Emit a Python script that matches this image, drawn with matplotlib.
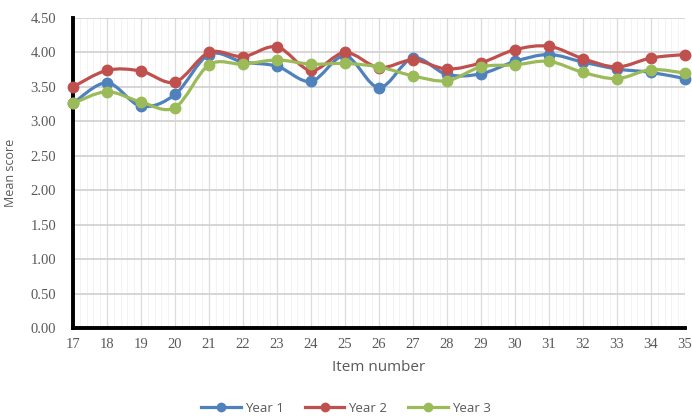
import matplotlib
matplotlib.use("Agg")
import matplotlib.pyplot as plt
from matplotlib.ticker import MultipleLocator
from matplotlib.path import Path
from matplotlib.patches import PathPatch
from matplotlib.lines import Line2D

items = list(range(17, 36))
year1 = [3.26, 3.56, 3.22, 3.39, 3.97, 3.86, 3.80, 3.58, 3.95, 3.49,
         3.92, 3.68, 3.69, 3.87, 3.97, 3.86, 3.76, 3.71, 3.62]
year2 = [3.50, 3.74, 3.73, 3.57, 4.00, 3.94, 4.08, 3.74, 4.00, 3.78,
         3.89, 3.76, 3.85, 4.04, 4.09, 3.91, 3.79, 3.92, 3.97]
year3 = [3.26, 3.43, 3.28, 3.20, 3.82, 3.83, 3.89, 3.83, 3.84, 3.79,
         3.66, 3.59, 3.79, 3.82, 3.87, 3.71, 3.62, 3.75, 3.70]
series_names = ["Year 1", "Year 2", "Year 3"]
y_ticks = [0.0, 0.5, 1.0, 1.5, 2.0, 2.5, 3.0, 3.5, 4.0, 4.5]

colors = ["#4F81BD", "#C0504D", "#9BBB59"]
text_color = "#595959"


def smooth_path(xs, ys):
    """Cubic Bezier path through the points (spreadsheet-style smoothed line)."""
    pts = list(zip(xs, ys))
    n = len(pts)
    verts = [pts[0]]
    codes = [Path.MOVETO]
    for i in range(n - 1):
        p0 = pts[i - 1] if i > 0 else pts[i]
        p1 = pts[i]
        p2 = pts[i + 1]
        p3 = pts[i + 2] if i + 2 < n else pts[i + 1]
        c1 = (p1[0] + (p2[0] - p0[0]) / 6, p1[1] + (p2[1] - p0[1]) / 6)
        c2 = (p2[0] - (p3[0] - p1[0]) / 6, p2[1] - (p3[1] - p1[1]) / 6)
        verts += [c1, c2, p2]
        codes += [Path.CURVE4] * 3
    return Path(verts, codes)


fig = plt.figure(figsize=(6.92, 4.16), dpi=100)
ax = fig.add_axes([73 / 692, 1 - 328 / 416, (685 - 73) / 692, (328 - 18) / 416])

handles = []
for vals, name, c in zip([year1, year2, year3], series_names, colors):
    ax.add_patch(PathPatch(smooth_path(items, vals), facecolor="none",
                           edgecolor=c, lw=2.3, zorder=3, clip_on=False))
    ax.plot(items, vals, linestyle="none", marker="o", ms=7.5, color=c,
            markeredgecolor=c, zorder=3, clip_on=False)
    handles.append(Line2D([], [], color=c, lw=2.3, marker="o", ms=6,
                          markeredgecolor=c, label=name))

ax.set_xlim(17, 35)
ax.set_ylim(0, 4.5)
ax.set_xticks(items)
ax.set_yticks(y_ticks)
ax.set_yticklabels([f"{v:.2f}" for v in y_ticks])
ax.xaxis.set_minor_locator(MultipleLocator(0.2))

ax.grid(which="major", axis="y", color="#d0d0d0", lw=1.2)
ax.grid(which="major", axis="x", color="#dcdcdc", lw=0.9)
ax.grid(which="minor", axis="x", color="#f3f3f3", lw=0.7)
ax.set_axisbelow(True)

for s in ["top", "right"]:
    ax.spines[s].set_visible(False)
for s in ["left", "bottom"]:
    ax.spines[s].set_linewidth(2.8)
    ax.spines[s].set_color("black")

ax.tick_params(which="both", length=0)
ax.tick_params(axis="y", pad=12)
ax.tick_params(axis="x", pad=7)
for lab in ax.get_xticklabels() + ax.get_yticklabels():
    lab.set_fontfamily("Liberation Serif")
    lab.set_fontsize(10.5)
    lab.set_color(text_color)

ax.set_ylabel("Mean score", fontsize=9, color=text_color, family="Open Sans", labelpad=10)
ax.set_xlabel("Item number", fontsize=11, color=text_color, family="Open Sans", labelpad=7)

leg = fig.legend(handles=handles, loc="center", bbox_to_anchor=(0.5, 1 - 408 / 416),
                 ncol=3, frameon=False, handlelength=3.0, columnspacing=1.6,
                 handletextpad=0.3, prop={"family": "Open Sans", "size": 9.5})
for t in leg.get_texts():
    t.set_color(text_color)

fig.savefig("out.png", dpi=100)
